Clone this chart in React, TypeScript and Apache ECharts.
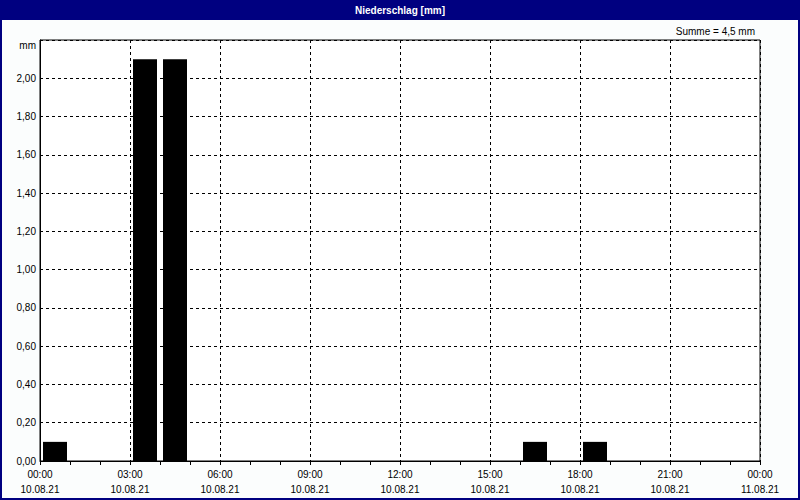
import React, { useEffect, useRef } from "react";
import * as echarts from "echarts";

const hours = [0, 3, 4, 16, 18];
const precip = [0.1, 2.1, 2.1, 0.1, 0.1];
const timeLabels = ["00:00", "03:00", "06:00", "09:00", "12:00", "15:00", "18:00", "21:00", "00:00"];
const dateLabels = ["10.08.21", "10.08.21", "10.08.21", "10.08.21", "10.08.21", "10.08.21", "10.08.21", "10.08.21", "11.08.21"];
const titleText = "Niederschlag [mm]";
const sumText = "Summe = 4,5 mm";
const yUnit = "mm";

const FONT = "Liberation Sans";

export default function App() {
  const ref = useRef<HTMLDivElement>(null);
  useEffect(() => {
    if (!ref.current) return;
    const chart = echarts.init(ref.current, null, { renderer: "svg" });
    const option: any = {
      animation: false,
      backgroundColor: "#fbfdfd",
      textStyle: { fontFamily: FONT, fontSize: 10, color: "#000" },
      grid: { left: 40, right: 40, top: 40, bottom: 39, show: true, borderColor: "#000", borderWidth: 1, backgroundColor: "#fff" },
      graphic: [
        { type: "rect", shape: { x: 0, y: 0, width: 800, height: 20 }, style: { fill: "#000080" }, z: 10 },
        { type: "rect", shape: { x: 1, y: 1, width: 798, height: 498 }, style: { fill: "none", stroke: "#000080", lineWidth: 2 }, z: 10 },
        { type: "text", x: 400, y: 10, style: { text: titleText, fill: "#fff", font: `bold 10px "${FONT}"`, align: "center", verticalAlign: "middle" }, z: 11 },
        { type: "text", x: 755, y: 31, style: { text: sumText, fill: "#000", font: `10px "${FONT}"`, align: "right", verticalAlign: "middle" }, z: 11 },
        { type: "text", x: 36, y: 45, style: { text: yUnit, fill: "#000", font: `10px "${FONT}"`, align: "right", verticalAlign: "middle" }, z: 11 },
      ],
      xAxis: {
        type: "value",
        min: 0,
        max: 24,
        interval: 3,
        axisLine: { show: true, lineStyle: { color: "#000" } },
        axisTick: { show: true, length: 4, lineStyle: { color: "#000" } },
        minorTick: { show: true, splitNumber: 3, length: 4, lineStyle: { color: "#000" } },
        splitLine: { show: true, lineStyle: { color: "#000", type: [3, 3], width: 1 } },
        axisLabel: {
          margin: 6,
          lineHeight: 15,
          color: "#000",
          fontFamily: FONT,
          fontSize: 10,
          formatter: (v: number) => {
            const i = Math.round(v / 3);
            return timeLabels[i] + "\n" + dateLabels[i];
          },
        },
      },
      yAxis: {
        type: "value",
        min: 0,
        max: 2.2,
        interval: 0.2,
        axisLine: { show: true, lineStyle: { color: "#000" } },
        axisTick: { show: false },
        splitLine: { show: true, lineStyle: { color: "#000", type: [3, 3], width: 1 } },
        axisLabel: {
          margin: 4,
          color: "#000",
          fontFamily: FONT,
          fontSize: 10,
          formatter: (v: number) => (Math.abs(v - 2.2) < 1e-6 ? "" : v.toFixed(2).replace(".", ",")),
        },
      },
      series: [
        {
          type: "bar",
          data: hours.map((h, i) => [h + 0.5, precip[i]]),
          barWidth: 24,
          itemStyle: { color: "#000" },
        },
      ],
    };
    chart.setOption(option);
    return () => chart.dispose();
  }, []);
  return <div ref={ref} style={{ position: "absolute", left: 0, top: 0, width: 800, height: 500 }} />;
}
